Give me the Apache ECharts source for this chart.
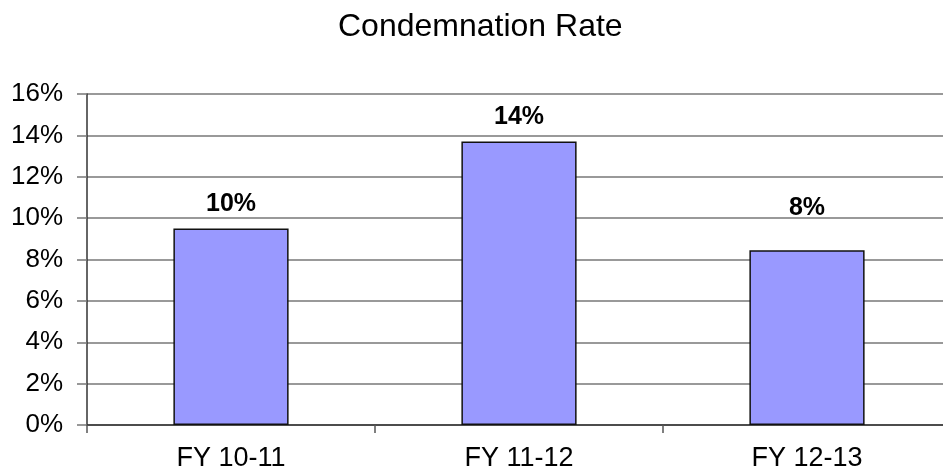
<!DOCTYPE html>
<html>
<head>
<meta charset="utf-8">
<style>
  html, body { margin: 0; padding: 0; background: #fff; }
  #chart { width: 943px; height: 471px; }
</style>
<script src="https://cdn.jsdelivr.net/npm/echarts@6/dist/echarts.min.js"></script>
</head>
<body>
<div id="chart"></div>
<script>
// Condemnation rate per fiscal year (percent)
const categories = ['FY 10-11', 'FY 11-12', 'FY 12-13'];
const rates = [9.5, 13.7, 8.45];
const yTicks = [0, 2, 4, 6, 8, 10, 12, 14, 16];

const FONT = '"Liberation Sans", Arial, sans-serif';
const labelDistance = [12, 12, 30];

const chart = echarts.init(document.getElementById('chart'), null, { renderer: 'canvas' });

chart.setOption({
  animation: false,
  backgroundColor: '#ffffff',
  title: {
    text: 'Condemnation Rate',
    left: 333,
    top: 6,
    textStyle: { fontFamily: FONT, fontSize: 32, fontWeight: 'normal', color: '#000' }
  },
  // plot area runs slightly past the right edge of the canvas
  grid: { left: 87, width: 864, top: 94, bottom: 46, containLabel: false, outerBoundsMode: 'none' },
  xAxis: {
    type: 'category',
    data: categories,
    axisLine: { lineStyle: { color: '#333', width: 1.5 } },
    axisTick: { show: true, length: 8, lineStyle: { color: '#555', width: 1.5 } },
    axisLabel: { fontFamily: FONT, fontSize: 27, color: '#000', margin: 20 }
  },
  yAxis: {
    type: 'value',
    min: yTicks[0],
    max: yTicks[yTicks.length - 1],
    interval: yTicks[1] - yTicks[0],
    axisLine: { show: true, lineStyle: { color: '#333', width: 1.5 } },
    axisTick: { show: true, length: 10, lineStyle: { color: '#777', width: 1.5 } },
    axisLabel: { fontFamily: FONT, fontSize: 26, color: '#000', margin: 24, formatter: '{value}%' },
    splitLine: { lineStyle: { color: '#777', width: 1.5 } }
  },
  series: [{
    type: 'bar',
    barWidth: '40%',
    data: rates.map((v, i) => ({
      value: v,
      label: { distance: labelDistance[i] }
    })),
    itemStyle: { color: '#9999ff', borderColor: '#111', borderWidth: 1.5 },
    label: {
      show: true,
      position: 'top',
      fontFamily: FONT,
      fontSize: 25,
      fontWeight: 'bold',
      color: '#000',
      formatter: p => Math.round(p.value) + '%'
    }
  }]
});
</script>
</body>
</html>
